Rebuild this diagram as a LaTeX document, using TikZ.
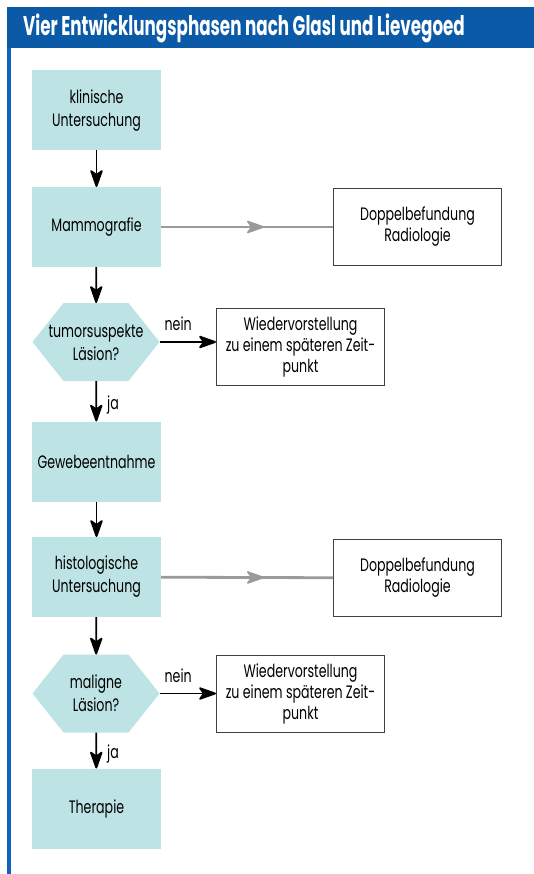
\documentclass[tikz,border=0pt]{standalone}
\usepackage{fontspec}
\setmainfont{Poppins}[FakeStretch=0.7]
\newfontfamily\titelfont{Poppins}[FakeStretch=0.62]
\usepackage{tikz}
\usetikzlibrary{arrows.meta,decorations.markings,backgrounds}
\definecolor{kopfblau}{HTML}{0B5AA8}
\definecolor{randblau}{HTML}{1464BE}
\definecolor{tuerkis}{HTML}{BDE3E4}
\definecolor{pfeilgrau}{HTML}{9A9A9A}

\begin{document}
\begin{tikzpicture}[x=1pt,y=-1pt,
  schritt/.style={fill=tuerkis,minimum width=129pt,minimum height=80pt,inner sep=0pt,outer sep=0pt,align=center,font=\fontsize{18}{23}\selectfont},
  frage/.style={minimum width=127pt,minimum height=78pt,inner sep=0pt,outer sep=0pt,align=center,font=\fontsize{18}{23}\selectfont},
  kasten/.style={draw=black!75,line width=1pt,fill=white,minimum width=168pt,minimum height=77pt,inner sep=0pt,align=center,font=\fontsize{18}{21}\selectfont},
  pfeil/.style={line width=1.8pt,-{Stealth[length=20pt,width=14pt,inset=5pt,round]}},
  grau/.style={draw=pfeilgrau,line width=2.8pt,postaction={decorate},decoration={markings,mark=at position 0.6 with {\arrow[pfeilgrau,line width=1.6pt]{Stealth[length=20pt,width=14pt,inset=5pt,round]}}}},
  marke/.style={font=\fontsize{18}{21}\selectfont,inner sep=0pt}]
\useasboundingbox (0,0) rectangle (534,874);
\fill[kopfblau] (7,7) rectangle (534,48);
\fill[randblau] (7,48) rectangle (11,874);
\node[anchor=west,text=white,inner sep=0pt,font=\titelfont\bfseries\fontsize{27}{30}\selectfont] (titel) at (23,28) {Vier Entwicklungsphasen nach Glasl und Lievegoed};

\node[schritt] (klin) at (96.5,110.5) {klinische\\Untersuchung};
\node[schritt] (mammo) at (96.5,227) {Mammografie};
\node[frage] (hex1) at (96,342) {tumorsuspekte\\Läsion?};
\node[schritt] (gew) at (96.5,461.5) {Gewebeentnahme};
\node[schritt] (hist) at (96.5,577) {histologische\\Untersuchung};
\node[frage] (hex2) at (96,693.5) {maligne\\Läsion?};
\node[schritt] (ther) at (96.5,808.5) {Therapie};

\begin{scope}[on background layer]
\foreach \h in {hex1,hex2}
  \fill[tuerkis] (\h.west) -- ([xshift=31pt]\h.north west) -- ([xshift=-31pt]\h.north east)
    -- (\h.east) -- ([xshift=-31pt]\h.south east) -- ([xshift=31pt]\h.south west) -- cycle;
\end{scope}

\node[kasten] (dop1) at (417.5,227) {Doppelbefundung\\Radiologie};
\node[kasten] (dop2) at (417.5,578) {Doppelbefundung\\Radiologie};
\node[kasten] (wied1) at (300.5,346.5) {Wiedervorstellung\\zu einem späteren Zeit-\\punkt};
\node[kasten] (wied2) at (300.5,693.5) {Wiedervorstellung\\zu einem späteren Zeit-\\punkt};

\draw[pfeil] (klin) -- (mammo);
\draw[pfeil] (mammo) -- (hex1);
\draw[pfeil] (hex1) -- node[marke,right=10pt,pos=0.6] {ja} (gew);
\draw[pfeil] (gew) -- (hist);
\draw[pfeil] (hist) -- (hex2);
\draw[pfeil] (hex2) -- node[marke,right=10pt,pos=0.6] {ja} (ther);
\draw[pfeil] (hex1.east) -- node[marke,above=10pt,pos=0.33] {nein} (hex1.east -| wied1.west);
\draw[pfeil] (hex2.east) -- node[marke,above=10pt,pos=0.33] {nein} (wied2.west);

\draw[grau] (mammo) -- (dop1);
\draw[grau] (hist) -- (dop2);
\end{tikzpicture}
\end{document}
